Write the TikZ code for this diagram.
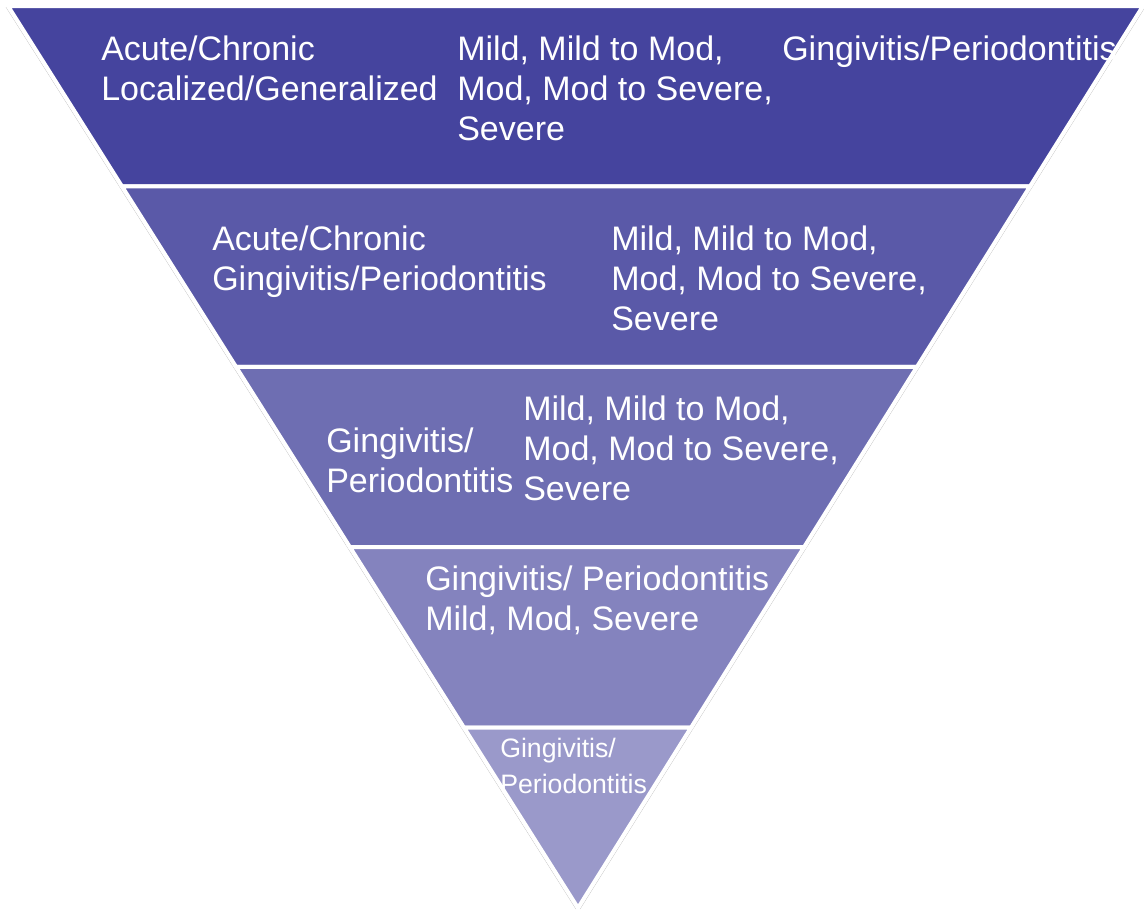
\documentclass[tikz,border=0pt]{standalone}
\usepackage{fontspec}
\setmainfont{Liberation Sans}
\definecolor{bandA}{RGB}{69,68,158}
\definecolor{bandB}{RGB}{90,89,168}
\definecolor{bandC}{RGB}{110,110,178}
\definecolor{bandD}{RGB}{132,131,190}
\definecolor{bandE}{RGB}{154,153,202}
\tikzset{
  band/.style={draw=white, line width=3pt},
  lbl/.style={text=white, anchor=base west, align=left, inner sep=0pt, font=\fontsize{25.5}{30}\selectfont},
  lblsmall/.style={lbl, font=\fontsize{20}{27}\selectfont}
}
\begin{document}
\begin{tikzpicture}[x=0.75pt, y=-0.75pt]
    \useasboundingbox (0,0) rectangle (1144,911);

    % Shadow edge
    \draw[gray!45, line width=0.4pt] (6,7) -- (576,909);
    \draw[gray!45, line width=0.4pt] (1145,7) -- (580,909);

    % Bands
    \filldraw[band, fill=bandA] (8,6) -- (1143,6) -- (1030,186.4) -- (122,186.4) -- cycle;
    \filldraw[band, fill=bandB] (122,186.4) -- (1030,186.4) -- (917,366.8) -- (236,366.8) -- cycle;
    \filldraw[band, fill=bandC] (236,366.8) -- (917,366.8) -- (804,547.2) -- (350,547.2) -- cycle;
    \filldraw[band, fill=bandD] (350,547.2) -- (804,547.2) -- (691,727.6) -- (464,727.6) -- cycle;
    \filldraw[band, fill=bandE] (464,727.6) -- (691,727.6) -- (578,908) -- cycle;

    % Level 1 (base = last line)
    \node[lbl] (typeA) at (101,100) {Acute/Chronic\\Localized/Generalized};
    \node[lbl] (sevA) at (457,140) {Mild, Mild to Mod,\\Mod, Mod to Severe,\\Severe};
    \node[lbl] (diagA) at (782,60) {Gingivitis/Periodontitis};

    % Level 2
    \node[lbl] (typeB) at (212,290) {Acute/Chronic\\Gingivitis/Periodontitis};
    \node[lbl] (sevB) at (611,330) {Mild, Mild to Mod,\\Mod, Mod to Severe,\\Severe};

    % Level 3
    \node[lbl] (diagC) at (326,492) {Gingivitis/\\Periodontitis};
    \node[lbl] (sevC) at (523,500) {Mild, Mild to Mod,\\Mod, Mod to Severe,\\Severe};

    % Level 4
    \node[lbl] (diagD) at (425,630) {Gingivitis/ Periodontitis\\Mild, Mod, Severe};

    % Level 5
    \node[lblsmall] (diagE) at (500,793) {Gingivitis/\\Periodontitis};
\end{tikzpicture}
\end{document}
